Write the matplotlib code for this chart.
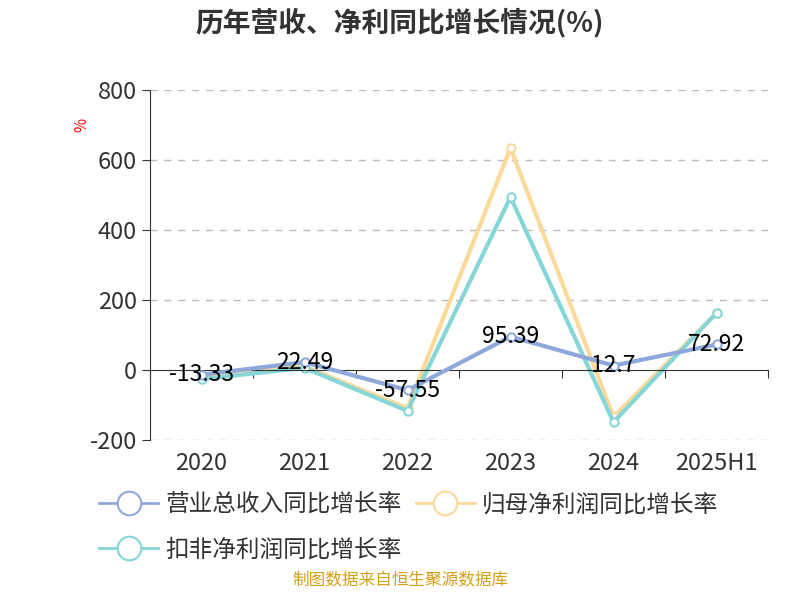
import matplotlib
matplotlib.use("Agg")
import matplotlib.pyplot as plt
from matplotlib.lines import Line2D

plt.rcParams['font.family'] = ['Noto Sans CJK SC', 'DejaVu Sans']
plt.rcParams['axes.unicode_minus'] = False

categories = ["2020", "2021", "2022", "2023", "2024", "2025H1"]
revenue = [-13.33, 22.49, -57.55, 95.39, 12.7, 72.92]
netprofit = [-20, 10, -109, 634, -134, 163]
deducted = [-26, 6, -117, 494, -149, 163]
names = ["营业总收入同比增长率", "归母净利润同比增长率", "扣非净利润同比增长率"]
colors = ["#8fa8dc", "#fdd999", "#86d6d8"]

fig = plt.figure(figsize=(8, 6), dpi=100)
ax = fig.add_axes([150/800, 160/600, 618/800, 350/600])
x = [i + 0.5 for i in range(len(categories))]
for vals, c, z in [(revenue, colors[0], 3), (netprofit, colors[1], 2), (deducted, colors[2], 2.5)]:
    ax.plot(x, vals, color=c, lw=3, marker='o', ms=6, mfc='white', mec=c, mew=1.5, zorder=z)
for xi, v in zip(x, revenue):
    ax.text(xi, v, f"{v:g}", ha='center', va='center', fontsize=16.5, color='black', zorder=5)

ax.set_xlim(0, 6)
ax.set_ylim(-200, 800)
ax.set_yticks([-200, 0, 200, 400, 600, 800])
ax.set_xticks(range(7))
ax.set_xticklabels([])
ax.spines['bottom'].set_position(('data', 0))
ax.spines['bottom'].set_color('#333333')
ax.tick_params(axis='x', which='major', length=6, color='#333333', direction='out')
for xi, lab in zip(x, categories):
    ax.text(xi, -235, lab, ha='center', va='top', fontsize=17, color='#333333')
ax.tick_params(axis='y', labelsize=17, labelcolor='#333333', length=6, color='#333333')
for s in ['top', 'right']:
    ax.spines[s].set_visible(False)
ax.spines['left'].set_color('#333333')
for yv in [-200, 200, 400, 600, 800]:
    ax.axhline(yv, color='#bbbbbb', lw=1, ls=(0, (5, 5)), zorder=0)
ax.text(-0.11, 0.89, "%", transform=ax.transAxes, color='red', fontsize=11, rotation=90, ha='center')
fig.text(0.5, 0.962, "历年营收、净利同比增长情况(%)", ha='center', va='center', fontsize=20, fontweight='bold', color='#333333')

handles = [Line2D([0], [0], color=c, lw=2, marker='o', ms=17, mfc='white', mec=c, mew=1.5) for c in colors]
fig.legend(handles[:2], names[:2], loc='upper left', bbox_to_anchor=(78/800, 1 - 472/600), ncol=2, frameon=False,
           fontsize=17, handlelength=2.5, columnspacing=0.6, labelcolor='#333333', handletextpad=0.3)
fig.legend(handles[2:], names[2:], loc='upper left', bbox_to_anchor=(78/800, 1 - 517/600), frameon=False,
           fontsize=17, handlelength=2.5, labelcolor='#333333', handletextpad=0.3)
fig.text(0.5, 0.018, "制图数据来自恒生聚源数据库", ha='center', va='bottom', fontsize=12, color='#d4a017')
fig.savefig("out.png", dpi=100)
